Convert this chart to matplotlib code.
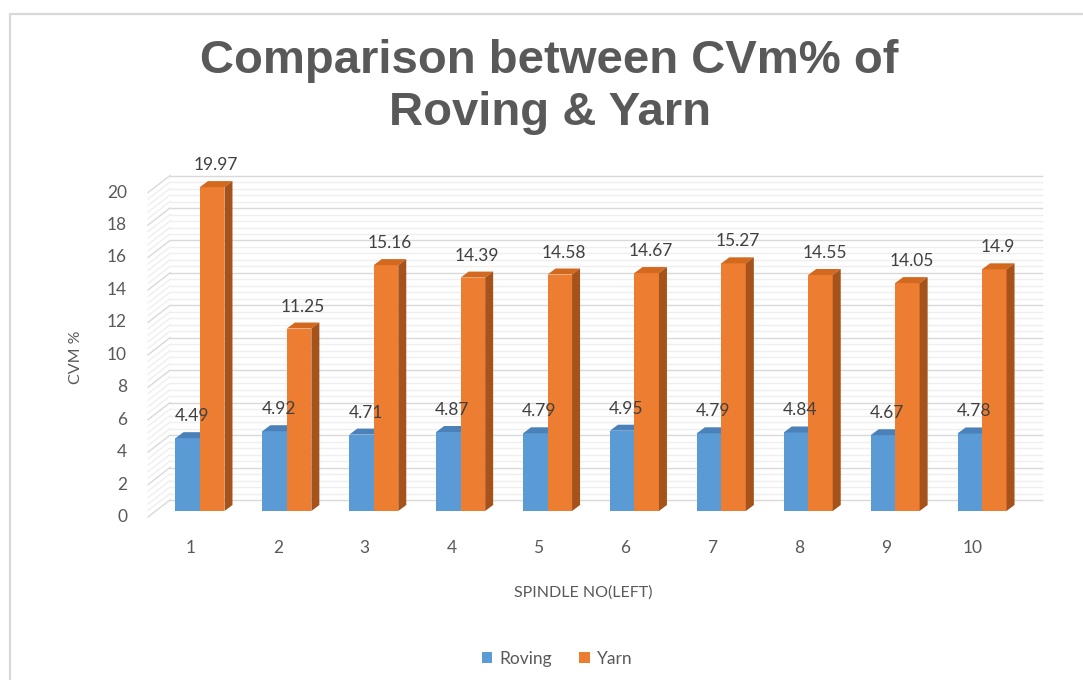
import matplotlib
matplotlib.use('Agg')
import matplotlib.pyplot as plt
from matplotlib.patches import Polygon, Rectangle, Patch
from matplotlib.lines import Line2D
from matplotlib.transforms import Affine2D, IdentityTransform
import numpy as np

# ---------------- data ----------------
categories = ['1', '2', '3', '4', '5', '6', '7', '8', '9', '10']
roving = [4.49, 4.92, 4.71, 4.87, 4.79, 4.95, 4.79, 4.84, 4.67, 4.78]
yarn = [19.97, 11.25, 15.16, 14.39, 14.58, 14.67, 15.27, 14.55, 14.05, 14.9]
series_names = ['Roving', 'Yarn']
y_ticks = [0, 2, 4, 6, 8, 10, 12, 14, 16, 18, 20]
title_lines = ['Comparison between CVm% of', 'Roving & Yarn']
x_title = 'SPINDLE NO(LEFT)'
y_title = 'CVM %'

# ---------------- style ----------------
W, H = 1083, 680
BLUE, BLUE_TOP = '#5b9bd5', '#4a81b8'
ORANGE, ORANGE_TOP, ORANGE_SIDE = '#ed7d31', '#d2691f', '#a5521b'
GRID_MAJOR, GRID_MINOR = '#d9d9d9', '#efefef'
TEXT = '#595959'
LABEL = '#404040'
FONT = 'Lato'

fig = plt.figure(figsize=(W / 100, H / 100), dpi=100)
fig.patch.set_facecolor('white')


def fx(px):
    return px / W


def fy(py):
    return 1 - py / H


ax_left, ax_right = 148, 1020
ax_top, ax_bottom = 186.6, 511
ax = fig.add_axes([fx(ax_left), fy(ax_bottom), (ax_right - ax_left) / W,
                   (ax_bottom - ax_top) / H])
x0lim, x1lim = 0.402, 10.437
ax.set_xlim(x0lim, x1lim)
ax.set_ylim(0, 20)
ax.axis('off')

# chart border
fig.patches.append(Rectangle((fx(10), fy(H + 5)), fx(W + 10), fy(14) - fy(H + 5),
                             transform=fig.transFigure, fill=False,
                             edgecolor='#d9d9d9', lw=1.6, zorder=0))

# ---------------- walls (3D look) ----------------
wall_dx, wall_dy = 22, 11      # back wall offset (pixels)
front_dy = -6                  # side wall front edge offset
back_tr = ax.transData + Affine2D().translate(wall_dx, wall_dy)
ident = IdentityTransform()

minor_vals = np.arange(0, 20.001, 0.4)
for v in minor_vals:
    is_major = abs(v / 2 - round(v / 2)) < 1e-6
    col = GRID_MAJOR if is_major else GRID_MINOR
    lw = 1.0
    ax.plot([x0lim, x1lim], [v, v], color=col, lw=lw, transform=back_tr,
            zorder=1 if is_major else 0.9, clip_on=False)
    px, py = ax.transData.transform((x0lim, v))
    ax.add_line(Line2D([px, px + wall_dx], [py + front_dy, py + wall_dy],
                       color=col, lw=lw, transform=ident,
                       zorder=1 if is_major else 0.9, clip_on=False))

# ---------------- bars ----------------
xs = np.arange(1, len(categories) + 1)
bw = 0.282
dd_x, dd_y = 8, 6   # bar depth (pixels)

bars_r = ax.bar(xs - bw / 2, roving, bw, color=BLUE, zorder=3, clip_on=False)
bars_y = ax.bar(xs + bw / 2, yarn, bw, color=ORANGE, zorder=3.2, clip_on=False)


def faces(rect, top_col, side_col, z):
    x = rect.get_x()
    w = rect.get_width()
    h = rect.get_height()
    (ax0, ay0) = ax.transData.transform((x, 0))
    (ax1, ay1) = ax.transData.transform((x + w, h))
    top = Polygon([(ax0, ay1), (ax1, ay1), (ax1 + dd_x, ay1 + dd_y),
                   (ax0 + dd_x, ay1 + dd_y)], closed=True, facecolor=top_col,
                  edgecolor='none', transform=ident, zorder=z, clip_on=False)
    ax.add_patch(top)
    if side_col is not None:
        side = Polygon([(ax1, ay0), (ax1, ay1), (ax1 + dd_x, ay1 + dd_y),
                        (ax1 + dd_x, ay0 + dd_y)], closed=True,
                       facecolor=side_col, edgecolor='none', transform=ident,
                       zorder=z, clip_on=False)
        ax.add_patch(side)


for r in bars_r:
    faces(r, BLUE_TOP, None, 3.1)
for r in bars_y:
    faces(r, ORANGE_TOP, ORANGE_SIDE, 3.3)

# data labels
for x, v in zip(xs - bw / 2, roving):
    ax.annotate(f'{v}', xy=(x, v), xytext=(4, 14), textcoords='offset pixels',
                ha='center', va='bottom', fontsize=12.5, color=LABEL,
                family=FONT, zorder=5, annotation_clip=False)
for x, v in zip(xs + bw / 2, yarn):
    ax.annotate(f'{v}', xy=(x, v), xytext=(4, 14), textcoords='offset pixels',
                ha='center', va='bottom', fontsize=12.5, color=LABEL,
                family=FONT, zorder=5, annotation_clip=False)

# tick labels
for x, c in zip(xs, categories):
    ax.annotate(c, xy=(x, 0), xytext=(-9, -37), textcoords='offset pixels',
                ha='center', va='center', fontsize=12.5, color=TEXT,
                family=FONT, annotation_clip=False)
for t in y_ticks:
    ax.annotate(str(t), xy=(x0lim, t), xytext=(-21, -6),
                textcoords='offset pixels', ha='right', va='center',
                fontsize=12.5, color=TEXT, family=FONT, annotation_clip=False)

# axis titles
fig.text(fx(583), fy(593), x_title, ha='center', va='center', fontsize=11.5,
         color=TEXT, family=FONT)
fig.text(fx(76), fy(357), y_title, ha='center', va='center', fontsize=11.5,
         color=TEXT, family=FONT, rotation=90)

# title
fig.text(fx(549), fy(61), title_lines[0], ha='center', va='center',
         fontsize=34, fontweight='bold', color=TEXT, family='Liberation Sans')
fig.text(fx(550), fy(113), title_lines[1], ha='center', va='center',
         fontsize=34, fontweight='bold', color=TEXT, family='Liberation Sans')

# legend
handles = [Patch(facecolor=BLUE, label=series_names[0]),
           Patch(facecolor=ORANGE, label=series_names[1])]
fig.legend(handles=handles, loc='center', bbox_to_anchor=(fx(557), fy(659)),
           ncol=2, frameon=False, handlelength=0.6, handleheight=0.6,
           columnspacing=1.6, handletextpad=0.4,
           prop={'family': FONT, 'size': 12.5}, labelcolor=TEXT)

fig.savefig('out.png', dpi=100)
